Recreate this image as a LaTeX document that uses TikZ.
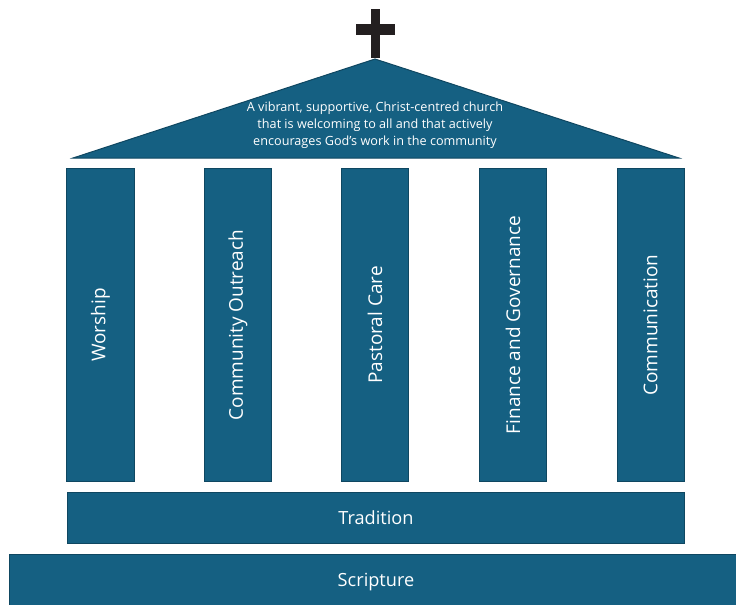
\documentclass[tikz,border=0pt]{standalone}
\usepackage{fontspec}
\setmainfont{Open Sans}
\definecolor{teal500}{HTML}{156082}
\definecolor{teal800}{HTML}{0F4761}
\definecolor{cross900}{HTML}{231F20}
\tikzstyle{pillar}=[rectangle, draw=teal800, fill=teal500, text=white, line width=0.3mm, minimum width=2.01cm, minimum height=9.39cm, inner sep=0pt, font=\fontsize{16.2}{18}\selectfont]
\tikzstyle{plinth}=[rectangle, draw=teal800, fill=teal500, text=white, line width=0.3mm, inner sep=0pt, font=\fontsize{15.5}{18}\selectfont]

\begin{document}
\begin{tikzpicture}[x=0.03cm, y=-0.03cm]
	\useasboundingbox (0,0) rectangle (736,604);
	\clip (0,0) rectangle (736,604);
	% roof and cross
	\fill[cross900] (371,9) rectangle (380,58);
	\fill[cross900] (356,24) rectangle (395,35);
	\draw[draw=teal800, fill=teal500, line width=0.3mm, line join=miter] (73,158) -- (375,59) -- (679,158) -- cycle;
	\node[text=white, align=center, inner sep=0pt, font=\fontsize{10.8}{14.5}\selectfont] (vision) at (375,125.5) {A vibrant, supportive, Christ-centred church\\that is welcoming to all and that actively\\encourages God’s work in the community};
	% pillars
	\node[pillar] (worship) at (100.5,325) {\rotatebox{90}{Worship}};
	\node[pillar] (outreach) at (238,325) {\rotatebox{90}{Community Outreach}};
	\node[pillar] (care) at (375,325) {\rotatebox{90}{Pastoral Care}};
	\node[pillar] (finance) at (513,325) {\rotatebox{90}{Finance and Governance}};
	\node[pillar] (comms) at (650.5,325) {\rotatebox{90}{Communication}};
	% foundations
	\node[plinth, minimum width=18.51cm, minimum height=1.53cm] (tradition) at (376,518) {Tradition};
	\node[plinth, minimum width=21.96cm, minimum height=1.68cm] (scripture) at (376,582) {Scripture};
\end{tikzpicture}
\end{document}
